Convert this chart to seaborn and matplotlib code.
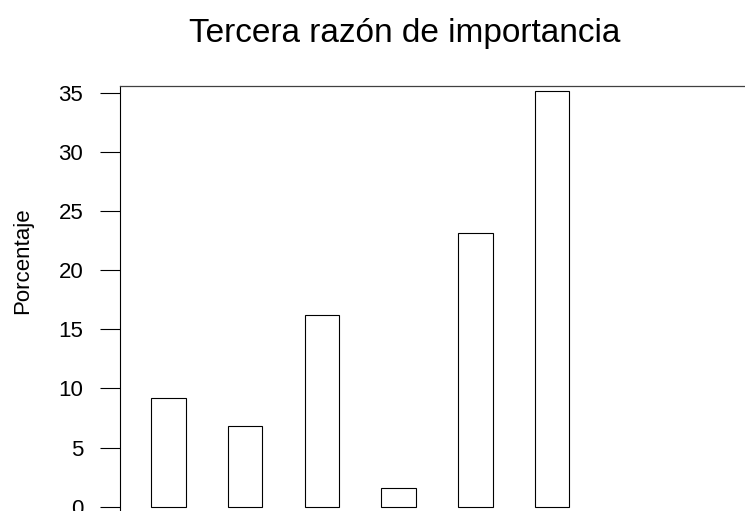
import matplotlib
matplotlib.use('Agg')
import matplotlib.pyplot as plt
import seaborn as sns
import pandas as pd

# Datos (categorías sin etiqueta visible)
categorias = ['1', '2', '3', '4', '5', '6']
porcentajes = [9.2, 6.8, 16.2, 1.6, 23.1, 35.1]
yticks = [0, 5, 10, 15, 20, 25, 30, 35]

sns.set_style('white')
plt.rcParams['font.family'] = ['Liberation Sans', 'DejaVu Sans']
plt.rcParams['text.color'] = 'black'
plt.rcParams['axes.labelcolor'] = 'black'
plt.rcParams['ytick.color'] = 'black'

df = pd.DataFrame({'categoria': categorias, 'porcentaje': porcentajes})

fig = plt.figure(figsize=(7.45, 5.11), dpi=100)
ax = fig.add_axes([120 / 745, 0.0, 1.0 - 120 / 745, 1 - 85.7 / 511])

sns.barplot(data=df, x='categoria', y='porcentaje', ax=ax, width=0.45,
            color='white', edgecolor='black', linewidth=0.8, errorbar=None)

ax.set_xlim(-0.629, 7.511)
ax.set_ylim(-0.36, 35.59)
ax.set_yticks(yticks)
ax.set_xticks([])
ax.set_xlabel('')
ax.set_ylabel('Porcentaje', fontsize=16, labelpad=18, y=0.588)
ax.tick_params(axis='y', length=14.4, width=0.8, pad=12, labelsize=16,
               direction='out', left=True, color='black')

for side in ['right', 'bottom']:
    ax.spines[side].set_visible(False)
ax.spines['left'].set_color('black')
ax.spines['left'].set_linewidth(0.8)
ax.spines['top'].set_color('#404040')
ax.spines['top'].set_linewidth(0.9)

fig.text(404.5 / 745, 1 - 42 / 511, 'Tercera razón de importancia',
         ha='center', va='baseline', fontsize=24)

fig.savefig('out.png', dpi=100)
